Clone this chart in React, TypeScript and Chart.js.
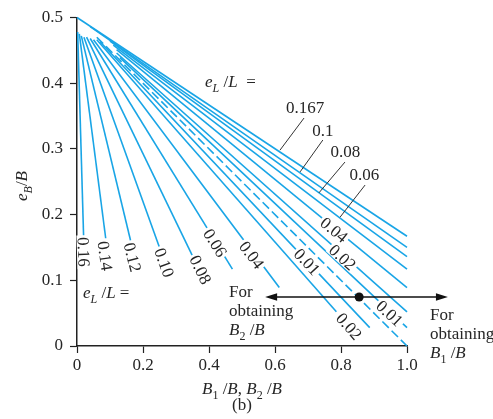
import React, { useEffect, useRef } from 'react';
import { Chart, registerables } from 'chart.js';
Chart.register(...registerables);

const FONT = "'Liberation Serif', 'DejaVu Serif', serif";
const TXT = '#262626';
const BLUE = '#19a5e6';
const FS = 17;

const xTickValues = [0, 0.2, 0.4, 0.6, 0.8, 1.0];
const yTickValues = [0, 0.1, 0.2, 0.3, 0.4, 0.5];

// e_L/L lines read for B1/B (they run to B1/B = 1.0)
const b1Params = ['0.167', '0.1', '0.08', '0.06', '0.04', '0.02', '0.01'];
const b1StartX = [0, 0.04, 0.1, 0.11, 0.12, 0.12, 0.13];
const b1StartY = [0.5, 0.486, 0.464, 0.458, 0.451, 0.446, 0.439];
const b1EndX = [1, 1, 1, 1, 1, 1, 1];
const b1EndY = [0.167, 0.15, 0.136, 0.117, 0.089, 0.052, 0.028];

// e_L/L lines read for B2/B
const b2Params = ['0.16', '0.14', '0.12', '0.10', '0.08', '0.06', '0.04', '0.02', '0.01'];
const b2StartX = [0.002, 0.007, 0.013, 0.021, 0.029, 0.04, 0.05, 0.06, 0.07];
const b2StartY = [0.478, 0.475, 0.472, 0.47, 0.47, 0.468, 0.466, 0.466, 0.463];
const b2EndX = [0.02, 0.087, 0.163, 0.25, 0.351, 0.471, 0.613, 0.786, 0.887];
const b2EndY = [0.167, 0.164, 0.159, 0.15, 0.136, 0.117, 0.089, 0.052, 0.028];

// e_L/L = 0 (dashed)
const zeroX = [0.06, 1.0];
const zeroY = [0.47, 0];

// worked example
const exampleX = 0.855;
const exampleY = 0.0746;
const arrowFromX = 0.57;
const arrowToX = 1.124;

// annotation placement (data coordinates)
const lineLabels = [
  { t: '0.16', x: 0.0197, y: 0.143, a: 88 },
  { t: '0.14', x: 0.085, y: 0.137, a: 82 },
  { t: '0.12', x: 0.168, y: 0.135, a: 76 },
  { t: '0.10', x: 0.264, y: 0.127, a: 70 },
  { t: '0.08', x: 0.374, y: 0.116, a: 64 },
  { t: '0.06', x: 0.418, y: 0.157, a: 58 },
  { t: '0.04', x: 0.529, y: 0.1385, a: 53 },
  { t: '0.01', x: 0.697, y: 0.128, a: 47 },
  { t: '0.02', x: 0.824, y: 0.03, a: 49 },
  { t: '0.04', x: 0.779, y: 0.1766, a: 39 },
  { t: '0.02', x: 0.8045, y: 0.1347, a: 42 },
  { t: '0.01', x: 0.947, y: 0.0495, a: 43 },
];

const leaderLabels = [
  { t: '0.167', x0: 0.615, y0: 0.298, x1: 0.688, y1: 0.347, tx: 0.691, ty: 0.362 },
  { t: '0.1', x0: 0.676, y0: 0.265, x1: 0.745, y1: 0.3135, tx: 0.745, ty: 0.327 },
  { t: '0.08', x0: 0.733, y0: 0.233, x1: 0.812, y1: 0.28, tx: 0.8136, ty: 0.294 },
  { t: '0.06', x0: 0.797, y0: 0.196, x1: 0.873, y1: 0.245, tx: 0.871, ty: 0.259 },
];

type Seg = { t: string; i?: boolean; sub?: boolean };

const eLLTop: Seg[] = [{ t: 'e', i: true }, { t: 'L', i: true, sub: true }, { t: ' /' }, { t: 'L', i: true }, { t: '  =' }];
const eLLLow: Seg[] = [{ t: 'e', i: true }, { t: 'L', i: true, sub: true }, { t: ' /' }, { t: 'L', i: true }, { t: ' =' }];

function drawRich(ctx: CanvasRenderingContext2D, segs: Seg[], x: number, y: number, size: number, align: 'left' | 'center') {
  const fontFor = (s: Seg) => `${s.i ? 'italic ' : ''}${s.sub ? Math.round(size * 0.72) : size}px ${FONT}`;
  let w = 0;
  for (const s of segs) {
    ctx.font = fontFor(s);
    w += ctx.measureText(s.t).width;
  }
  let cx = align === 'center' ? x - w / 2 : x;
  ctx.textAlign = 'left';
  ctx.textBaseline = 'alphabetic';
  for (const s of segs) {
    ctx.font = fontFor(s);
    ctx.fillText(s.t, cx, s.sub ? y + size * 0.28 : y);
    cx += ctx.measureText(s.t).width;
  }
}

const annot = {
  id: 'annot',
  afterDatasetsDraw(chart: any) {
    const ctx: CanvasRenderingContext2D = chart.ctx;
    const xs = chart.scales.x;
    const ys = chart.scales.y;
    const px = (v: number) => xs.getPixelForValue(v);
    const py = (v: number) => ys.getPixelForValue(v);
    ctx.save();

    // labels along lines
    for (const l of lineLabels) {
      ctx.save();
      ctx.translate(px(l.x), py(l.y));
      ctx.rotate((l.a * Math.PI) / 180);
      ctx.font = `${FS}px ${FONT}`;
      const w = ctx.measureText(l.t).width;
      ctx.fillStyle = '#fff';
      ctx.fillRect(-w / 2 - 2, -6.5, w + 4, 13);
      ctx.fillStyle = TXT;
      ctx.textAlign = 'center';
      ctx.textBaseline = 'middle';
      ctx.fillText(l.t, 0, 1);
      ctx.restore();
    }

    // leader labels
    ctx.strokeStyle = '#333';
    ctx.lineWidth = 1;
    for (const l of leaderLabels) {
      ctx.beginPath();
      ctx.moveTo(px(l.x0), py(l.y0));
      ctx.lineTo(px(l.x1), py(l.y1));
      ctx.stroke();
      ctx.font = `${FS}px ${FONT}`;
      ctx.fillStyle = TXT;
      ctx.textAlign = 'center';
      ctx.textBaseline = 'middle';
      ctx.fillText(l.t, px(l.tx), py(l.ty));
    }

    ctx.fillStyle = TXT;
    drawRich(ctx, eLLTop, px(0.388), py(0.394), FS, 'left');
    drawRich(ctx, eLLLow, px(0.018), py(0.073), FS, 'left');

    // left note
    const lx = px(0.4606);
    drawRich(ctx, [{ t: 'For' }], lx, py(0.0746), FS, 'left');
    drawRich(ctx, [{ t: 'obtaining' }], lx, py(0.0457), FS, 'left');
    drawRich(ctx, [{ t: 'B', i: true }, { t: '2', sub: true }, { t: ' /' }, { t: 'B', i: true }], lx, py(0.0167), FS, 'left');
    // right note
    const rx = px(1.0697);
    drawRich(ctx, [{ t: 'For' }], rx, py(0.039), FS, 'left');
    drawRich(ctx, [{ t: 'obtaining' }], rx, py(0.0107), FS, 'left');
    drawRich(ctx, [{ t: 'B', i: true }, { t: '1', sub: true }, { t: ' /' }, { t: 'B', i: true }], rx, py(-0.018), FS, 'left');

    // arrow
    const ay = py(exampleY);
    const a0 = px(arrowFromX);
    const a1 = px(arrowToX);
    ctx.strokeStyle = '#111';
    ctx.lineWidth = 1.3;
    ctx.beginPath();
    ctx.moveTo(a0 + 4, ay);
    ctx.lineTo(a1 - 4, ay);
    ctx.stroke();
    ctx.fillStyle = '#111';
    ctx.beginPath();
    ctx.moveTo(a0, ay);
    ctx.lineTo(a0 + 12, ay - 3.8);
    ctx.lineTo(a0 + 12, ay + 3.8);
    ctx.closePath();
    ctx.fill();
    ctx.beginPath();
    ctx.moveTo(a1, ay);
    ctx.lineTo(a1 - 12, ay - 3.8);
    ctx.lineTo(a1 - 12, ay + 3.8);
    ctx.closePath();
    ctx.fill();
    ctx.beginPath();
    ctx.arc(px(exampleX), ay, 4.5, 0, Math.PI * 2);
    ctx.fill();

    // axis titles
    ctx.fillStyle = TXT;
    const cxm = (chart.chartArea.left + chart.chartArea.right) / 2;
    drawRich(ctx, [{ t: 'B', i: true }, { t: '1', sub: true }, { t: ' /' }, { t: 'B', i: true }, { t: ', ' }, { t: 'B', i: true }, { t: '2', sub: true }, { t: ' /' }, { t: 'B', i: true }], cxm, 394, FS, 'center');
    drawRich(ctx, [{ t: '(b)' }], cxm, 410, FS, 'center');
    ctx.save();
    ctx.translate(27, 186);
    ctx.rotate(-Math.PI / 2);
    drawRich(ctx, [{ t: 'e', i: true }, { t: 'B', i: true, sub: true }, { t: '/' }, { t: 'B', i: true }], 0, 0, FS, 'center');
    ctx.restore();

    ctx.restore();
  },
};

export default function App() {
  const ref = useRef<HTMLCanvasElement>(null);
  useEffect(() => {
    const line = (data: { x: number; y: number }[], dashed = false) => ({
      data,
      showLine: true,
      borderColor: BLUE,
      backgroundColor: BLUE,
      borderWidth: 1.6,
      pointRadius: 0,
      fill: false,
      tension: 0,
      borderDash: dashed ? [9, 4] : [],
      clip: false as any,
    });
    const datasets: any[] = [
      ...b1Params.map((p, i) => ({
        label: `B1 ${p}`,
        ...line([
          { x: b1StartX[i], y: b1StartY[i] },
          { x: b1EndX[i], y: b1EndY[i] },
        ]),
      })),
      ...b2Params.map((p, i) => ({
        label: `B2 ${p}`,
        ...line([
          { x: b2StartX[i], y: b2StartY[i] },
          { x: b2EndX[i], y: b2EndY[i] },
        ]),
      })),
      {
        label: '0',
        ...line(
          zeroX.map((x, i) => ({ x, y: zeroY[i] })),
          true
        ),
      },
    ];
    const tickFmt = (v: any) => (Number(v) === 0 ? '0' : Number(v).toFixed(1));
    const chart = new Chart(ref.current!, {
      type: 'scatter',
      data: { datasets },
      options: {
        animation: false,
        responsive: false,
        events: [],
        layout: { padding: { left: 0, right: 86, top: 17.5, bottom: 0 } },
        plugins: { legend: { display: false }, tooltip: { enabled: false }, title: { display: false } },
        scales: {
          x: {
            type: 'linear',
            min: 0,
            max: 1,
            afterBuildTicks: (s: any) => {
              s.ticks = xTickValues.map((v) => ({ value: v }));
            },
            afterFit: (s: any) => {
              s.height = 73;
            },
            grid: { display: true, drawOnChartArea: false, drawTicks: true, tickLength: 7, tickWidth: 1.2, color: '#222' },
            border: { display: true, color: '#222', width: 1.5 },
            ticks: { font: { family: FONT, size: FS }, color: TXT, padding: 2, maxRotation: 0, autoSkip: false, callback: tickFmt },
          },
          y: {
            type: 'linear',
            min: 0,
            max: 0.5,
            afterBuildTicks: (s: any) => {
              s.ticks = yTickValues.map((v) => ({ value: v }));
            },
            afterFit: (s: any) => {
              s.width = 77;
            },
            grid: { display: true, drawOnChartArea: false, drawTicks: true, tickLength: 7, tickWidth: 1.2, color: '#222' },
            border: { display: true, color: '#222', width: 1.5 },
            ticks: { font: { family: FONT, size: FS }, color: TXT, padding: 7, autoSkip: false, callback: tickFmt },
          },
        },
      } as any,
      plugins: [annot],
    });
    return () => chart.destroy();
  }, []);
  return (
    <div style={{ position: 'fixed', left: 0, top: 0, width: 493, height: 419, background: '#fff' }}>
      <canvas ref={ref} width={493} height={419} style={{ display: 'block', width: 493, height: 419 }} />
    </div>
  );
}
